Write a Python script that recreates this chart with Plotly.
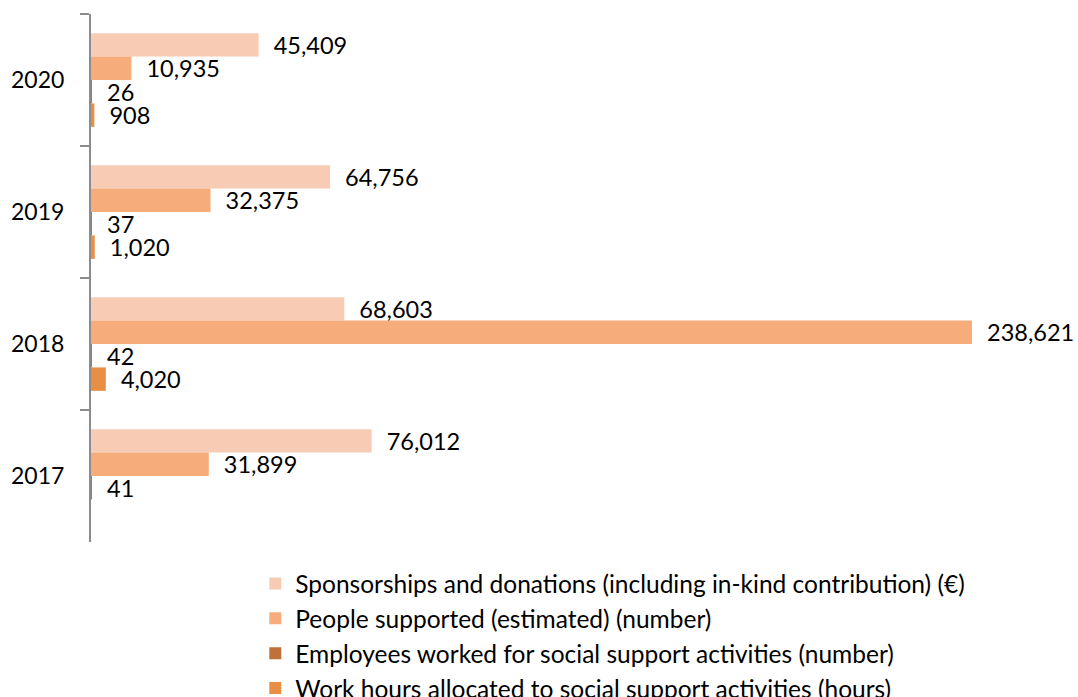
import plotly.graph_objects as go

years = ["2020", "2019", "2018", "2017"]
sponsorships = [45409, 64756, 68603, 76012]
people_supported = [10935, 32375, 238621, 31899]
employees = [26, 37, 42, 41]
work_hours = [908, 1020, 4020, None]

series_names = [
    "Sponsorships and donations (including in-kind contribution) (€)",
    "People supported (estimated) (number)",
    "Employees worked for social support activities (number)",
    "Work hours allocated to social support activities (hours)",
]
series_values = [sponsorships, people_supported, employees, work_hours]
series_colors = ["#F8CBB4", "#F7AC7B", "#C0703A", "#E98F45"]

FONT = "Lato"
PAD = "\u00a0\u00a0"

fig = go.Figure()
for name, vals, color in zip(series_names, series_values, series_colors):
    labels = [None if v is None else PAD + f"{v:,}" for v in vals]
    fig.add_trace(go.Bar(
        y=years,
        x=vals,
        name=name,
        orientation="h",
        marker=dict(color=color, line=dict(width=0)),
        text=labels,
        texttemplate="%{text}",
        textposition="outside",
        constraintext="none",
        cliponaxis=False,
        textfont=dict(family=FONT, size=23.5, color="#000000"),
        hoverinfo="skip",
    ))

fig.update_layout(
    width=1078,
    height=697,
    margin=dict(l=91, r=64, t=14, b=155, autoexpand=False),
    paper_bgcolor="white",
    plot_bgcolor="white",
    barmode="group",
    bargap=0.29,
    bargroupgap=0,
    font=dict(family=FONT, size=22, color="#000000"),
    xaxis=dict(visible=False, range=[0, 250000], fixedrange=True),
    yaxis=dict(
        type="category",
        autorange="reversed",
        showline=True,
        linecolor="#8C8C8C",
        linewidth=2,
        ticks="outside",
        tickson="boundaries",
        ticklen=9,
        tickwidth=2,
        tickcolor="#8C8C8C",
        ticklabelstandoff=20,
        showgrid=False,
        zeroline=False,
        automargin=False,
        tickfont=dict(family=FONT, size=23, color="#000000"),
    ),
    legend=dict(
        orientation="v",
        x=0.178,
        xanchor="left",
        y=-0.036,
        yanchor="top",
        traceorder="normal",
        font=dict(family=FONT, size=24.5, color="#000000"),
        itemwidth=30,
        bgcolor="rgba(0,0,0,0)",
    ),
    showlegend=True,
)

fig.write_html("out.html")
